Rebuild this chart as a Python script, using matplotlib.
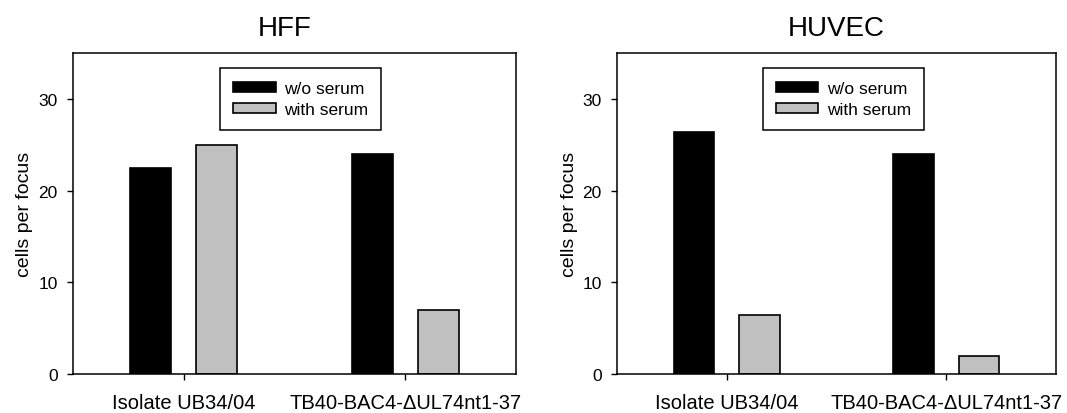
import matplotlib
matplotlib.use("Agg")
import matplotlib.pyplot as plt
import numpy as np

plt.rcParams['font.family'] = ['Liberation Sans', 'DejaVu Sans']

strains = ["Isolate UB34/04", "TB40-BAC4-\u0394UL74nt1-37"]
series = ["w/o serum", "with serum"]
colors = ["#000000", "#c0c0c0"]

panels = ["HFF", "HUVEC"]
hff_vals = {"w/o serum": [22.5, 24.0], "with serum": [25.0, 7.0]}
huvec_vals = {"w/o serum": [26.4, 24.0], "with serum": [6.4, 2.0]}

fig = plt.figure(figsize=(10.67, 4.14), dpi=100)
ax1 = fig.add_axes([0.0684, 0.0942, 0.4152, 0.7754])
ax2 = fig.add_axes([0.5783, 0.0942, 0.4114, 0.7754])

x = np.arange(len(strains))
width = 0.185
offsets = [-0.15, 0.15]

for ax, title, vals, tx in [(ax1, panels[0], hff_vals, 0.478),
                            (ax2, panels[1], huvec_vals, 0.5)]:
    for name, col, off in zip(series, colors, offsets):
        ax.bar(x + off, vals[name], width, color=col, edgecolor='black',
               linewidth=1.2, label=name, zorder=2)
    ax.set_xlim(-0.5, 0.5 + len(strains) - 1)
    ax.set_ylim(0, 35)
    ax.set_yticks([0, 10, 20, 30])
    ax.set_xticks(x)
    ax.set_xticklabels(strains, fontsize=14.5)
    ax.tick_params(axis='y', labelsize=12.5, length=4, width=1, pad=7,
                   direction='out')
    ax.tick_params(axis='x', length=4, width=1, pad=10, direction='out')
    for s in ax.spines.values():
        s.set_linewidth(1.1)
    ax.set_ylabel("cells per focus", fontsize=14)
    ax.yaxis.set_label_coords(-0.09, 0.5)
    ax.set_title(title, fontsize=20, pad=13, x=tx)
    ax.legend(loc='upper left', bbox_to_anchor=(0.332, 0.953), borderaxespad=0,
              fontsize=12.5, fancybox=False, framealpha=1, edgecolor='black',
              handlelength=2.45, handleheight=0.55, handletextpad=0.5,
              labelspacing=0.35, borderpad=0.75)
    ax.get_legend().get_frame().set_linewidth(1.1)

fig.savefig("out.png", dpi=100)
